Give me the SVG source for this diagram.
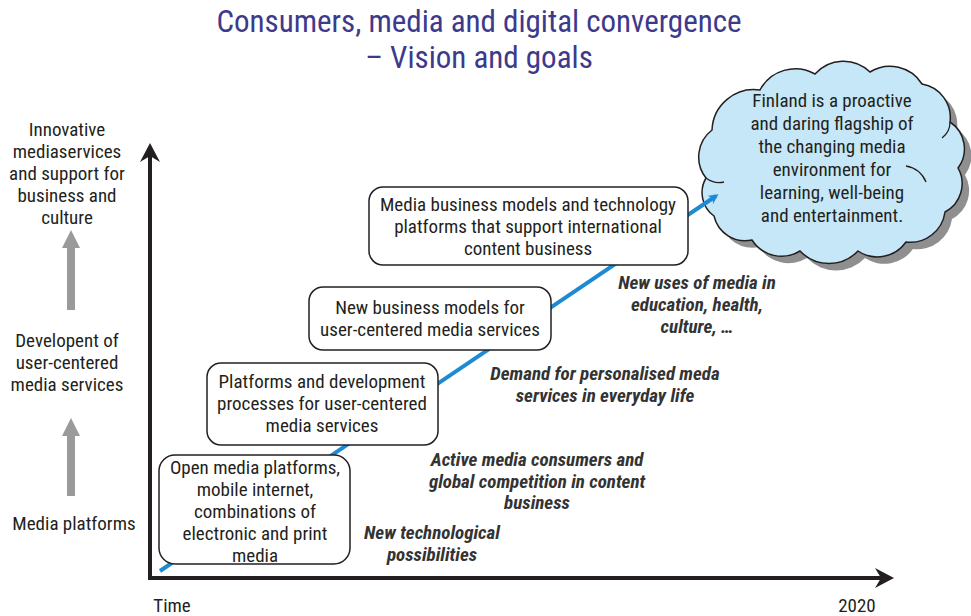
<svg xmlns="http://www.w3.org/2000/svg" width="971" height="616" viewBox="0 0 971 616">
<style>
text{font-family:"Liberation Sans Narrow","Roboto Condensed","DejaVu Sans Condensed","Liberation Sans",sans-serif;fill:#231f20;font-size:19px;text-anchor:middle}
.title{fill:#3d3a8c;font-size:31px}
.it{font-style:italic;font-weight:bold;fill:#333}
.box{fill:#fff;stroke:#231f20;stroke-width:1.5}
.gray{fill:#9a9a9a}
.curl{fill:none;stroke:#231f20;stroke-width:1.3}
</style>
<defs>
<marker id="blueHead" markerWidth="10" markerHeight="10" refX="7" refY="5" orient="auto" markerUnits="userSpaceOnUse" viewBox="0 0 10 10">
<path d="M0,0 L10,5 L0,10 L3,5 Z" fill="#1d8ad2"/>
</marker>
<path id="cloudShape" d="M712,130 A42,42 0 0 1 760,90 A40,40 0 0 1 815,74 A38,38 0 0 1 870,72 A38,38 0 0 1 922,84 A34,34 0 0 1 950,122 A32,32 0 0 1 958,168 A32,32 0 0 1 945,212 A35,35 0 0 1 906,242 A35,35 0 0 1 858,251 A40,40 0 0 1 800,251 A35,35 0 0 1 752,240 A32,32 0 0 1 714,216 A29,29 0 0 1 706,178 A34,34 0 0 1 712,130 Z"/>
</defs>
<rect width="971" height="616" fill="#fff"/>
<g id="title">
<text class="title" x="479" y="32">Consumers, media and digital convergence</text>
<text class="title" x="479" y="68">– Vision and goals</text>
</g>
<g id="axes">
<line x1="150" y1="579" x2="150" y2="150" stroke="#231f20" stroke-width="4"/>
<path d="M150,143 L160,162 L150,156 L140,162 Z" fill="#231f20"/>
<line x1="148" y1="578" x2="885" y2="578" stroke="#231f20" stroke-width="4"/>
<path d="M894,578 L875,568 L881,578 L875,588 Z" fill="#231f20"/>
<text x="172" y="612">Time</text>
<text x="857" y="612">2020</text>
</g>
<g id="left-labels">
<text x="67" y="136">Innovative</text>
<text x="67" y="158">mediaservices</text>
<text x="67" y="180">and support for</text>
<text x="67" y="202">business and</text>
<text x="67" y="224">culture</text>
<path d="M67,310 L67,248 L62,248 L71,230 L80,248 L75,248 L75,310 Z" class="gray"/>
<text x="67" y="347">Developent of</text>
<text x="67" y="369">user-centered</text>
<text x="67" y="391">media services</text>
<path d="M67,496 L67,436 L62,436 L71,418 L80,436 L75,436 L75,496 Z" class="gray"/>
<text x="74" y="530">Media platforms</text>
</g>
<g id="cloud">
<use href="#cloudShape" transform="translate(7,7)" fill="#8f8f8f"/>
<use href="#cloudShape" fill="#c6e7f7" stroke="#231f20" stroke-width="1.5"/>
<path class="curl" d="M706,178 A22,22 0 0 0 724,182"/>
<path class="curl" d="M950,122 A20,20 0 0 1 942,138"/>
<path class="curl" d="M906,166 A26,26 0 0 1 926,182"/>
<text x="832" y="107">Finland is a proactive</text>
<text x="832" y="130">and daring flagship of</text>
<text x="832" y="153">the changing media</text>
<text x="832" y="176">environment for</text>
<text x="832" y="199">learning, well-being</text>
<text x="832" y="222">and entertainment.</text>
</g>
<g id="connectors">
<line x1="160" y1="571" x2="716" y2="196" stroke="#1d8ad2" stroke-width="4" marker-end="url(#blueHead)"/>
</g>
<g id="box1">
<rect class="box" x="159" y="455" width="191" height="109" rx="16"/>
<text x="255" y="474">Open media platforms,</text>
<text x="255" y="496">mobile internet,</text>
<text x="255" y="518">combinations of</text>
<text x="255" y="540">electronic and print</text>
<text x="255" y="562">media</text>
</g>
<g id="box2">
<rect class="box" x="207" y="363" width="231" height="82" rx="14"/>
<text x="322" y="388">Platforms and development</text>
<text x="322" y="410">processes for user-centered</text>
<text x="322" y="432">media services</text>
</g>
<g id="box3">
<rect class="box" x="309" y="287" width="242" height="63" rx="14"/>
<text x="430" y="314">New business models for</text>
<text x="430" y="336">user-centered media services</text>
</g>
<g id="box4">
<rect class="box" x="369" y="187" width="319" height="78" rx="14"/>
<text x="528" y="211">Media business models and technology</text>
<text x="528" y="233">platforms that support international</text>
<text x="528" y="255">content business</text>
</g>
<g id="drivers">
<text class="it" x="697" y="289">New uses of media in</text>
<text class="it" x="697" y="311">education, health,</text>
<text class="it" x="697" y="333">culture, …</text>
<text class="it" x="605" y="380">Demand for personalised meda</text>
<text class="it" x="605" y="402">services in everyday life</text>
<text class="it" x="537" y="466">Active media consumers and</text>
<text class="it" x="537" y="488">global competition in content</text>
<text class="it" x="537" y="509">business</text>
<text class="it" x="432" y="539">New technological</text>
<text class="it" x="432" y="561">possibilities</text>
</g>
</svg>
